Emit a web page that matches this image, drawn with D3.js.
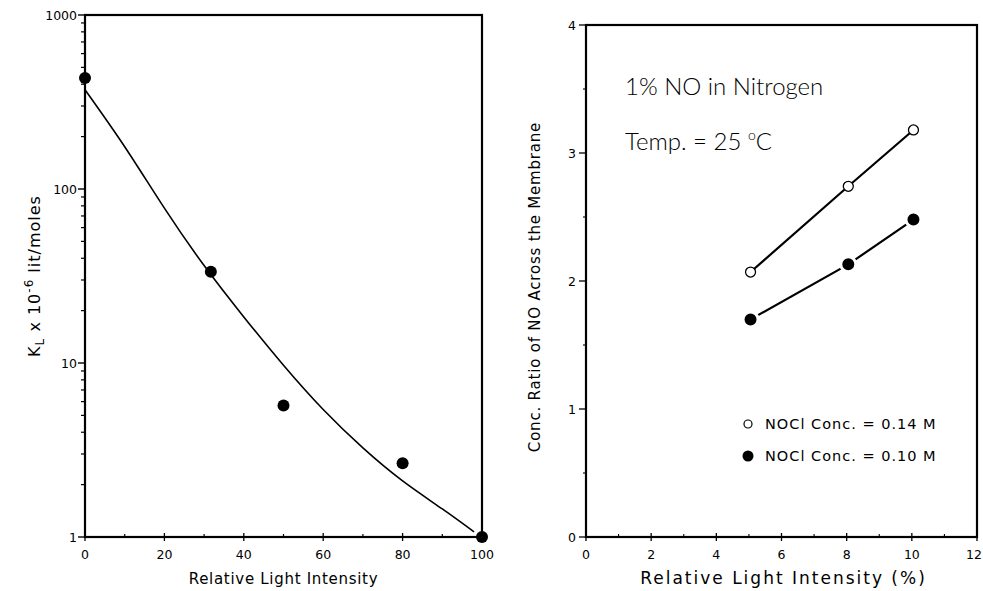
<!DOCTYPE html>
<html lang="en">
<head>
  <meta charset="UTF-8">
  <title>KL and concentration ratio vs light intensity</title>
  <script src="https://d3js.org/d3.v7.min.js"></script>
  <style>
    body { margin: 0; background: #fff; font-family: "DejaVu Sans", sans-serif; }
    .frame { fill: none; stroke: #000; stroke-width: 2.2; }
    .tick-label { font-size: 12.5px; fill: #000; }
    .axis-title { font-size: 15px; fill: #000; letter-spacing: 0.7px; }
    .note { font-family: Lato, "DejaVu Sans", sans-serif; font-weight: 300; font-size: 24px; fill: #000; }
    .legend { font-size: 14.5px; fill: #000; letter-spacing: 1px; }
  </style>
</head>
<body>
  <svg width="983" height="591"></svg>
  <script>
    // left panel: K_L vs relative light intensity (log y)
    const klIntensity = [0, 31.7, 50, 80, 100];
    const klValues = [434, 33.5, 5.7, 2.65, 1.0];
    const fitIntensity = [0, 10, 20, 30, 40, 50, 60, 70, 80, 90, 98];
    const fitValues = [372, 175, 77.6, 36.3, 18.4, 9.7, 5.4, 3.25, 2.1, 1.45, 1.07];
    const klTicks = [1, 10, 100, 1000];
    const leftXTicks = [0, 20, 40, 60, 80, 100];

    // right panel: concentration ratio
    const ratioIntensity = [5.05, 8.05, 10.05];
    const ratio014 = [2.07, 2.74, 3.18];
    const ratio010 = [1.70, 2.13, 2.48];
    const rightXTicks = [0, 2, 4, 6, 8, 10, 12];
    const rightYTicks = [0, 1, 2, 3, 4];

    const svg = d3.select("svg");

    // ---------- left panel ----------
    const x1 = d3.scaleLinear().domain([0, 100]).range([85, 482]);
    const y1 = d3.scaleLog().domain([1, 1000]).range([537, 15]);

    const left = svg.append("g");

    // minor log ticks
    const minorLog = [];
    [1, 10, 100].forEach(d => { for (let k = 2; k <= 9; k++) minorLog.push(d * k); });
    left.selectAll(".ymin").data(minorLog).enter().append("line")
      .attr("x1", x1(0) - 4).attr("x2", x1(0))
      .attr("y1", d => y1(d)).attr("y2", d => y1(d))
      .attr("stroke", "#000").attr("stroke-width", 1.2);
    left.selectAll(".ymaj").data(klTicks).enter().append("line")
      .attr("x1", x1(0) - 7).attr("x2", x1(0))
      .attr("y1", d => y1(d)).attr("y2", d => y1(d))
      .attr("stroke", "#000").attr("stroke-width", 1.4);
    left.selectAll(".ylab").data(klTicks).enter().append("text")
      .attr("class", "tick-label")
      .attr("x", x1(0) - 8).attr("y", d => y1(d) + 4.5)
      .attr("text-anchor", "end")
      .text(d => d);

    const leftXMinor = d3.range(10, 100, 20);
    left.selectAll(".xmin").data(leftXMinor).enter().append("line")
      .attr("x1", d => x1(d)).attr("x2", d => x1(d))
      .attr("y1", y1(1) - 3).attr("y2", y1(1))
      .attr("stroke", "#000").attr("stroke-width", 1.2);
    left.selectAll(".xmaj").data(leftXTicks).enter().append("line")
      .attr("x1", d => x1(d)).attr("x2", d => x1(d))
      .attr("y1", y1(1) - 4).attr("y2", y1(1) + 4)
      .attr("stroke", "#000").attr("stroke-width", 1.3);
    left.selectAll(".xlab").data(leftXTicks).enter().append("text")
      .attr("class", "tick-label")
      .attr("x", d => x1(d)).attr("y", y1(1) + 22)
      .attr("text-anchor", "middle")
      .text(d => d);

    left.append("rect").attr("class", "frame")
      .attr("x", x1(0)).attr("y", y1(1000))
      .attr("width", x1(100) - x1(0)).attr("height", y1(1) - y1(1000));

    const fitLine = d3.line().curve(d3.curveNatural)
      .x((d, i) => x1(fitIntensity[i]))
      .y(d => y1(d));
    left.append("path").datum(fitValues)
      .attr("d", fitLine)
      .attr("fill", "none").attr("stroke", "#000").attr("stroke-width", 1.6);

    left.selectAll(".kl").data(klValues).enter().append("circle")
      .attr("cx", (d, i) => x1(klIntensity[i]))
      .attr("cy", d => y1(d))
      .attr("r", 6).attr("fill", "#000");

    left.append("text").attr("class", "axis-title")
      .attr("x", (x1(0) + x1(100)) / 2).attr("y", 584)
      .attr("text-anchor", "middle")
      .text("Relative Light Intensity");

    const yt1 = left.append("text").attr("class", "axis-title")
      .style("font-size", "16px").style("letter-spacing", "1px")
      .attr("transform", `translate(40,${(y1(1) + y1(1000)) / 2}) rotate(-90)`)
      .attr("text-anchor", "middle");
    yt1.append("tspan").text("K");
    yt1.append("tspan").attr("dy", 4).attr("font-size", "12px").text("L");
    yt1.append("tspan").attr("dy", -4).text(" x 10");
    yt1.append("tspan").attr("dy", -7).attr("font-size", "12px").text("-6");
    yt1.append("tspan").attr("dy", 7).text(" lit/moles");

    // ---------- right panel ----------
    const x2 = d3.scaleLinear().domain([0, 12]).range([586, 977]);
    const y2 = d3.scaleLinear().domain([0, 4]).range([537, 25]);
    const right = svg.append("g");

    right.selectAll(".ymin").data(d3.range(0.5, 4, 1)).enter().append("line")
      .attr("x1", x2(0) - 3).attr("x2", x2(0))
      .attr("y1", d => y2(d)).attr("y2", d => y2(d))
      .attr("stroke", "#000").attr("stroke-width", 1.1);
    right.selectAll(".ymaj").data(rightYTicks).enter().append("line")
      .attr("x1", x2(0) - 7).attr("x2", x2(0))
      .attr("y1", d => y2(d)).attr("y2", d => y2(d))
      .attr("stroke", "#000").attr("stroke-width", 1.3);
    right.selectAll(".ylab").data(rightYTicks).enter().append("text")
      .attr("class", "tick-label")
      .attr("x", x2(0) - 10).attr("y", d => y2(d) + 4.5)
      .attr("text-anchor", "end")
      .text(d => d);

    right.selectAll(".xmin").data(d3.range(1, 12, 2)).enter().append("line")
      .attr("x1", d => x2(d)).attr("x2", d => x2(d))
      .attr("y1", y2(0) - 3).attr("y2", y2(0))
      .attr("stroke", "#000").attr("stroke-width", 1.1);
    right.selectAll(".xmaj").data(rightXTicks).enter().append("line")
      .attr("x1", d => x2(d)).attr("x2", d => x2(d))
      .attr("y1", y2(0) - 4).attr("y2", y2(0) + 4)
      .attr("stroke", "#000").attr("stroke-width", 1.3);
    right.selectAll(".xlab").data(rightXTicks).enter().append("text")
      .attr("class", "tick-label")
      .attr("x", d => Math.min(x2(d), 974)).attr("y", y2(0) + 22)
      .attr("text-anchor", "middle")
      .text(d => d);

    right.append("rect").attr("class", "frame")
      .attr("x", x2(0)).attr("y", y2(4))
      .attr("width", x2(12) - x2(0)).attr("height", y2(0) - y2(4));

    const ratioLine = d3.line()
      .x((d, i) => x2(ratioIntensity[i]))
      .y(d => y2(d));
    [ratio014, ratio010].forEach(series => {
      right.append("path").datum(series)
        .attr("d", ratioLine)
        .attr("fill", "none").attr("stroke", "#000").attr("stroke-width", 2.2);
    });
    right.selectAll(".filled").data(ratio010).enter().append("circle")
      .attr("cx", (d, i) => x2(ratioIntensity[i]))
      .attr("cy", d => y2(d))
      .attr("r", 7.5).attr("fill", "#000")
      .attr("stroke", "#fff").attr("stroke-width", 3);
    right.selectAll(".open").data(ratio014).enter().append("circle")
      .attr("cx", (d, i) => x2(ratioIntensity[i]))
      .attr("cy", d => y2(d))
      .attr("r", 5).attr("fill", "#fff")
      .attr("stroke", "#000").attr("stroke-width", 1.3);

    right.append("text").attr("class", "note")
      .attr("x", 625).attr("y", 95)
      .text("1% NO in Nitrogen");
    const temp = right.append("text").attr("class", "note")
      .attr("x", 625).attr("y", 150);
    temp.append("tspan").text("Temp. = 25 ");
    temp.append("tspan").attr("dy", -10).attr("font-size", "14px").text("o");
    temp.append("tspan").attr("dy", 10).text("C");

    // legend
    const legendY = [424, 456];
    right.append("circle").attr("cx", 748).attr("cy", legendY[0]).attr("r", 4)
      .attr("fill", "#fff").attr("stroke", "#000").attr("stroke-width", 1.2);
    right.append("circle").attr("cx", 748).attr("cy", legendY[1]).attr("r", 5.5)
      .attr("fill", "#000");
    right.append("text").attr("class", "legend")
      .attr("x", 765).attr("y", legendY[0] + 5).text("NOCl Conc. = 0.14 M");
    right.append("text").attr("class", "legend")
      .attr("x", 765).attr("y", legendY[1] + 5).text("NOCl Conc. = 0.10 M");

    right.append("text").attr("class", "axis-title")
      .style("font-size", "17px").style("letter-spacing", "2px")
      .attr("x", (x2(0) + x2(12)) / 2 + 2).attr("y", 584)
      .attr("text-anchor", "middle")
      .text("Relative Light Intensity (%)");
    right.append("text").attr("class", "axis-title")
      .style("letter-spacing", "0.8px")
      .attr("transform", `translate(540,${(y2(0) + y2(4)) / 2 + 6}) rotate(-90)`)
      .attr("text-anchor", "middle")
      .text("Conc. Ratio of NO Across the Membrane");
  </script>
</body>
</html>
